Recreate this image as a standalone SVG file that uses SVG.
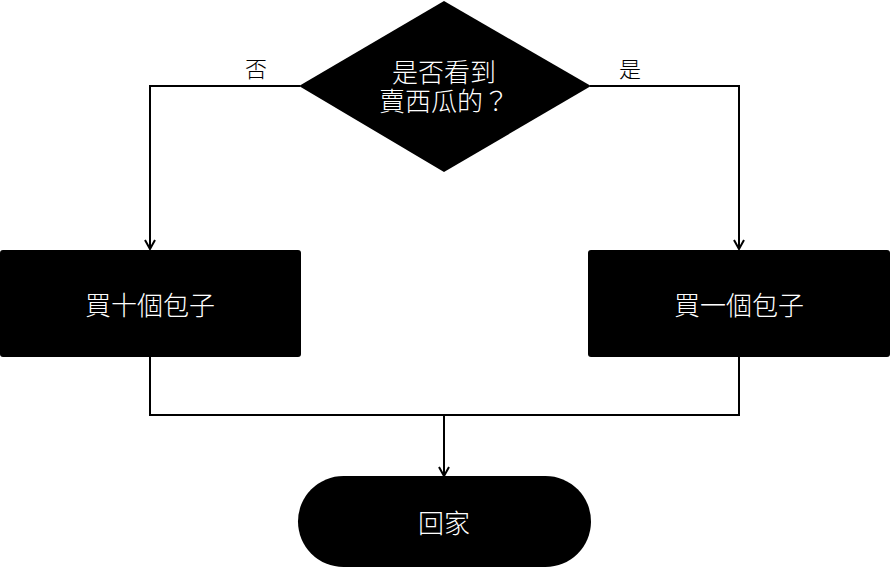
<svg xmlns="http://www.w3.org/2000/svg" width="890" height="568" viewBox="0 0 890 568">
<defs>
<marker id="arr" viewBox="0 0 12 12" refX="10" refY="6" markerWidth="12" markerHeight="12" markerUnits="userSpaceOnUse" orient="auto">
<path d="M1,1 L10,6 L1,11" fill="none" stroke="#000" stroke-width="2"/>
</marker>
</defs>
<style>
.shape{fill:#000;}
.t{fill:#fff;font-family:"Noto Sans CJK TC","Noto Sans CJK SC",sans-serif;font-size:26px;font-weight:300;text-anchor:middle;}
.lbl{fill:#000;font-family:"Noto Sans CJK TC","Noto Sans CJK SC",sans-serif;font-size:22px;font-weight:300;text-anchor:middle;}
.c{fill:none;stroke:#000;stroke-width:2;}
</style>
<rect width="890" height="568" fill="#fff"/>
<g id="connectors">
<polyline class="c" points="300,86 150,86 150,249" marker-end="url(#arr)"/>
<polyline class="c" points="590,86 739,86 739,249" marker-end="url(#arr)"/>
<polyline class="c" points="150,357 150,415 739,415 739,357"/>
<line class="c" x1="444" y1="415" x2="444" y2="476" marker-end="url(#arr)"/>
<text class="lbl" x="256" y="77">否</text>
<text class="lbl" x="630" y="77">是</text>
</g>
<g id="decision">
<polygon class="shape" points="444,1 591,86 444,172 299,86"/>
<text class="t" x="444" y="82">是否看到</text>
<text class="t" x="444" y="111">賣西瓜的？</text>
</g>
<g id="buy10">
<rect class="shape" x="0" y="250" width="301" height="107" rx="3"/>
<text class="t" x="150" y="315">買十個包子</text>
</g>
<g id="buy1">
<rect class="shape" x="588" y="250" width="302" height="107" rx="3"/>
<text class="t" x="739" y="315">買一個包子</text>
</g>
<g id="home">
<rect class="shape" x="298" y="476" width="293" height="91" rx="45.5"/>
<text class="t" x="444" y="533">回家</text>
</g>
</svg>
